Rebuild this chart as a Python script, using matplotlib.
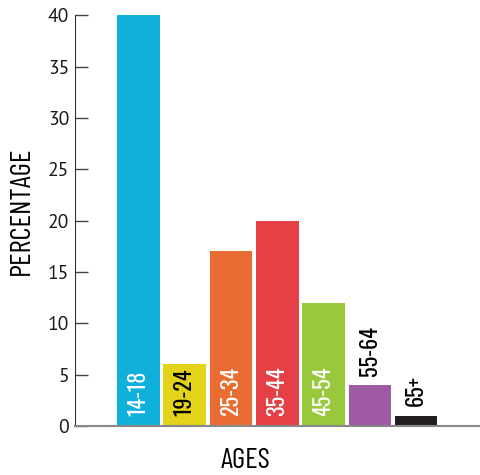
import matplotlib
matplotlib.use('Agg')
import matplotlib.pyplot as plt

ages = ['14-18', '19-24', '25-34', '35-44', '45-54', '55-64', '65+']
percent = [40, 6, 17, 20, 12, 4, 1]
colors = ['#0fb1da', '#e3d41b', '#e96d33', '#e44046', '#99c83c', '#9e5ba4', '#231f20']
label_colors = ['white', 'black', 'white', 'white', 'white', 'black', 'black']

label_font = ['Oswald', 'DejaVu Sans']
title_font = ['Barlow Condensed', 'DejaVu Sans']
tick_font = ['PT Sans', 'DejaVu Sans']

fig = plt.figure(figsize=(4.8, 4.75), dpi=100)
ax = fig.add_axes([0.156, 0.1032, 0.844, 0.8648])

x = range(len(ages))
bars = ax.bar(x, percent, width=0.92, color=colors)

for i, (b, lab) in enumerate(zip(bars, ages)):
    h = b.get_height()
    # labels sit inside tall bars, above short ones
    y = 1.0 if h > 5 else h + 0.9
    ax.text(b.get_x() + b.get_width() / 2, y, lab, rotation=90, ha='center', va='bottom',
            color=label_colors[i], fontsize=16, fontweight='bold', family=label_font)

ax.set_xlim(-1.37, 7.38)
ax.set_ylim(0, 40)
ax.set_yticks(range(0, 41, 5))
ax.set_xticks([])
ax.tick_params(axis='y', direction='in', length=9, width=1, color='#444444',
               labelsize=14, labelcolor='#1a1a1a', pad=4)
for t in ax.get_yticklabels():
    t.set_family(tick_font)
ax.spines['top'].set_visible(False)
ax.spines['right'].set_visible(False)
ax.spines['left'].set_color('#333333')
ax.spines['bottom'].set_color('#888888')
ax.spines['bottom'].set_linewidth(1.5)

ax.set_ylabel('PERCENTAGE', fontsize=21, family=title_font)
ax.yaxis.set_label_coords(-0.098, 0.525)
fig.text(0.511, 0.003, 'AGES', fontsize=21, family=title_font, ha='center', va='bottom')

plt.savefig('out.png', dpi=100)
